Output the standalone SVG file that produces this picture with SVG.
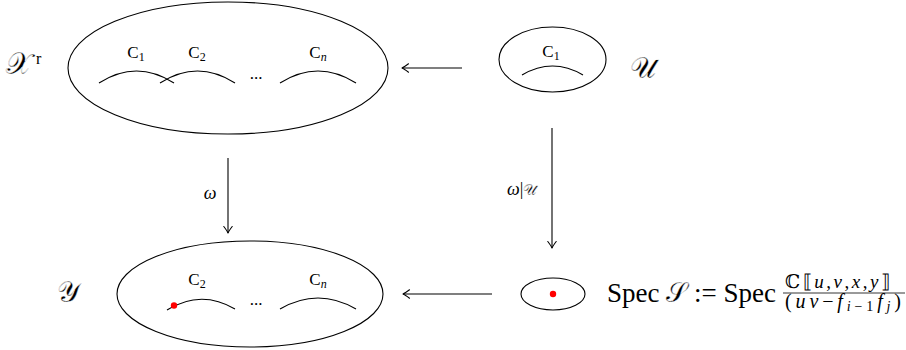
<svg xmlns="http://www.w3.org/2000/svg" width="906" height="350" viewBox="0 0 906 350">
<defs>
<marker id="ah" viewBox="-8 -5 10 10" refX="0" refY="0" markerWidth="10" markerHeight="10" markerUnits="userSpaceOnUse" orient="auto">
<path d="M-6.5,-4.2 Q-2,-0.8 0,0 Q-2,0.8 -6.5,4.2" fill="none" stroke="#000" stroke-width="1.1" stroke-linecap="round" stroke-linejoin="round"/>
</marker>
</defs>
<style>
.sh{fill:none;stroke:#000;stroke-width:1.1}
.cv{fill:none;stroke:#000;stroke-width:1.1}
.ed{fill:none;stroke:#000;stroke-width:1.1;marker-end:url(#ah)}
text{font-family:"Liberation Serif","DejaVu Serif",serif;fill:#000}
.lb{font-size:17px;text-anchor:middle}
.it{font-style:italic}
.sc{font-family:"DejaVu Sans","Noto Sans",serif;font-style:normal;stroke:#fff;stroke-width:0.35}
.big{font-size:27px}
.dot{fill:#f00}
</style>
<rect width="906" height="350" fill="#fff"/>
<g id="Xr">
<ellipse class="sh" cx="228" cy="68" rx="160" ry="66"/>
<path class="cv" d="M99 83 Q136.5 59 174 83"/>
<path class="cv" d="M160 83 Q197.5 59 235 83"/>
<path class="cv" d="M280 83 Q318 59 356 83"/>
<text class="lb" x="136" y="58">C<tspan font-size="12" dy="3">1</tspan></text>
<text class="lb" x="197" y="58">C<tspan font-size="12" dy="3">2</tspan></text>
<text class="lb" x="318" y="58">C<tspan font-size="12" dy="3" class="it">n</tspan></text>
<text class="lb" x="256" y="79">...</text>
<text x="6" y="74" font-size="30"><tspan class="sc">𝒳</tspan><tspan font-size="16" dx="4" dy="-10">r</tspan></text>
</g>
<g id="U">
<ellipse class="sh" cx="552.5" cy="59.5" rx="53.5" ry="32.5"/>
<path class="cv" d="M522 75 Q552.5 57 583 75"/>
<text class="lb" x="551" y="57">C<tspan font-size="12" dy="3">1</tspan></text>
<text x="630" y="78" font-size="29" class="sc">𝒰</text>
</g>
<g id="Y">
<ellipse class="sh" cx="250" cy="294" rx="133" ry="53"/>
<path class="cv" d="M167 310 Q201 289 235 309"/>
<path class="cv" d="M280 309 Q318 287 356 309"/>
<circle class="dot" cx="174" cy="305.5" r="3.2"/>
<text class="lb" x="197" y="285">C<tspan font-size="12" dy="3">2</tspan></text>
<text class="lb" x="318" y="285">C<tspan font-size="12" dy="3" class="it">n</tspan></text>
<text class="lb" x="256" y="305">...</text>
<text x="57" y="302" font-size="29" class="sc">𝒴</text>
</g>
<g id="S">
<ellipse class="sh" cx="553" cy="294" rx="32" ry="16"/>
<circle class="dot" cx="553" cy="294" r="3.2"/>
<text x="607" y="302" class="big">Spec <tspan class="sc">𝒮</tspan> := Spec</text>
<text x="785" y="288" font-size="19" textLength="105" lengthAdjust="spacing">ℂ⟦<tspan class="it">u</tspan>,<tspan class="it">v</tspan>,<tspan class="it">x</tspan>,<tspan class="it">y</tspan>⟧</text>
<line x1="783" y1="293" x2="905" y2="293" stroke="#000" stroke-width="0.8"/>
<text x="785" y="308" font-size="20" textLength="116" lengthAdjust="spacing">(<tspan class="it">uv</tspan>−<tspan class="it">f</tspan><tspan font-size="14" dy="3" class="it">i</tspan><tspan font-size="14">−1</tspan><tspan dy="-3" class="it">f</tspan><tspan font-size="14" dy="3" class="it">j</tspan><tspan dy="-3">)</tspan></text>
</g>
<g id="connectors">
<line class="ed" x1="462" y1="68" x2="402" y2="68"/>
<line class="ed" x1="228" y1="158" x2="228" y2="233"/>
<line class="ed" x1="552" y1="128" x2="552" y2="248"/>
<line class="ed" x1="492" y1="294" x2="403" y2="294"/>
<text x="210" y="199" font-size="18" class="it" text-anchor="middle">ω</text>
<text x="507" y="195" font-size="18"><tspan class="it">ω</tspan>|<tspan class="sc" font-size="15">𝒰</tspan></text>
</g>
</svg>
